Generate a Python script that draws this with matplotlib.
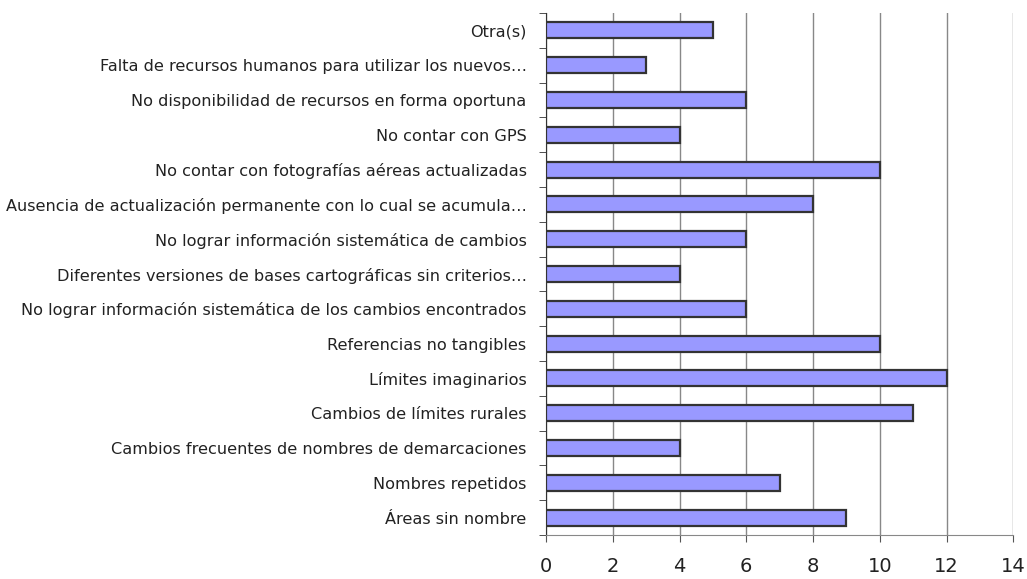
import matplotlib
matplotlib.use("Agg")
import matplotlib.pyplot as plt
import numpy as np

plt.rcParams["font.family"] = ["DejaVu Sans"]

# categories listed bottom to top
labels = [
    "Áreas sin nombre",
    "Nombres repetidos",
    "Cambios frecuentes de nombres de demarcaciones",
    "Cambios de límites rurales",
    "Límites imaginarios",
    "Referencias no tangibles",
    "No lograr información sistemática de los cambios encontrados",
    "Diferentes versiones de bases cartográficas sin criterios…",
    "No lograr información sistemática de cambios",
    "Ausencia de actualización permanente con lo cual se acumula…",
    "No contar con fotografías aéreas actualizadas",
    "No contar con GPS",
    "No disponibilidad de recursos en forma oportuna",
    "Falta de recursos humanos para utilizar los nuevos…",
    "Otra(s)",
]
values = [9, 7, 4, 11, 12, 10, 6, 4, 6, 8, 10, 4, 6, 3, 5]
xticks = [0, 2, 4, 6, 8, 10, 12, 14]

fig = plt.figure(figsize=(10.27, 5.79), dpi=100)
ax = fig.add_axes([0.5316, 0.076, 0.4552, 0.9015])

y = np.arange(len(labels))
ax.barh(y, values, height=0.46, color="#9999FF", edgecolor="#333333", linewidth=1.6, zorder=3)

ax.set_xlim(0, 14)
ax.set_ylim(-0.5, len(labels) - 0.5)
ax.set_xticks(xticks)
ax.set_xticklabels([str(t) for t in xticks], fontsize=14, color="#222222")
ax.set_yticks(y)
ax.set_yticklabels(labels, fontsize=11.6, color="#222222")
ax.set_yticks(np.arange(len(labels) + 1) - 0.5, minor=True)

ax.tick_params(axis="y", which="major", length=0, pad=14)
ax.tick_params(axis="y", which="minor", length=5, color="#333333", direction="out")
ax.tick_params(axis="x", length=5, color="#555555", direction="out", pad=11)

ax.grid(axis="x", color="#888888", linewidth=1, zorder=0)
for s in ["top", "right"]:
    ax.spines[s].set_visible(False)
ax.spines["left"].set_color("#333333")
ax.spines["bottom"].set_color("#888888")

fig.savefig("out.png", dpi=100)
